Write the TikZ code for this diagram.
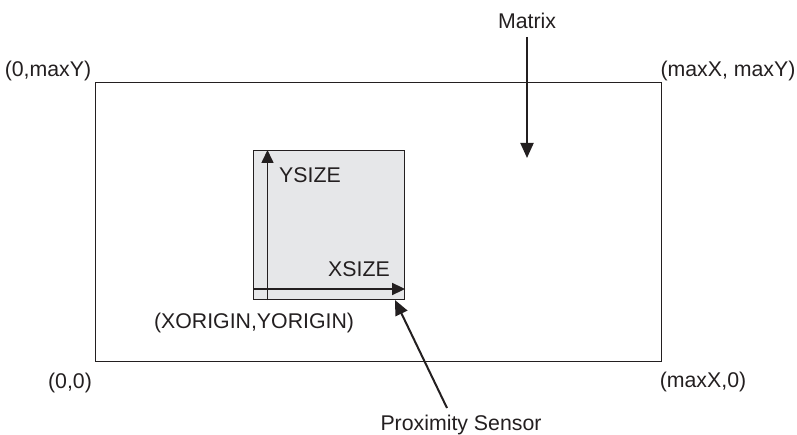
\documentclass[tikz,border=0pt]{standalone}
\usepackage{fontspec}
\setmainfont{Liberation Sans}
\usetikzlibrary{arrows.meta}
\definecolor{sensorgray}{HTML}{E6E7E9}
\definecolor{ink}{HTML}{231F20}
\begin{document}
\begin{tikzpicture}[x=1pt,y=-1pt,
  lbl/.style={inner sep=0pt,anchor=base,font=\fontsize{21.3}{25}\selectfont,text=ink},
  thin line/.style={draw=ink,line width=1.1pt},
  pointer/.style={draw=ink,line width=2pt,-{Triangle[length=15pt,width=13pt]}}]
\useasboundingbox (0,0) rectangle (797,435);
% matrix rectangle
\node[thin line,minimum width=566pt,minimum height=279pt,inner sep=0pt,anchor=north west] (matrix) at (95,82) {};
% sensor box
\node[thin line,fill=sensorgray,minimum width=151pt,minimum height=149pt,inner sep=0pt,anchor=north west] (sensor) at (253,150) {};
\coordinate (origin) at (267.5,289);
\coordinate (xend) at (sensor.east |- origin);
\coordinate (yend) at (origin |- sensor.north);
\draw[pointer,line width=1.6pt,-{Triangle[length=13pt,width=12pt]}] (sensor.west |- origin) -- (xend);
\draw[pointer,line width=1.6pt,-{Triangle[length=13pt,width=12pt]}] (origin |- sensor.south) -- (yend);
% labels
\node[lbl] (ysize) at (310,182.5) {YSIZE};
\node[lbl] (xsize) at (359,277) {XSIZE};
\node[lbl] (org) at (254,328) {(XORIGIN,YORIGIN)};
\node[lbl] (tl) at (48,77) {(0,maxY)};
\node[lbl] (tr) at (728,77) {(maxX, maxY)};
\node[lbl] (bl) at (70,388) {(0,0)};
\node[lbl] (br) at (703,387) {(maxX,0)};
\node[lbl] (mlabel) at (527,29) {Matrix};
\node[lbl] (plabel) at (461,430) {Proximity Sensor};
% pointers
\coordinate (mtip) at (527,158);
\coordinate (ptip) at (395,300);
\coordinate (mtail) at (527,37);
\coordinate (ptail) at (447,408);
\draw[pointer] (mtail) -- (mtip);
\draw[pointer] (ptail) -- (ptip);
\end{tikzpicture}
\end{document}
